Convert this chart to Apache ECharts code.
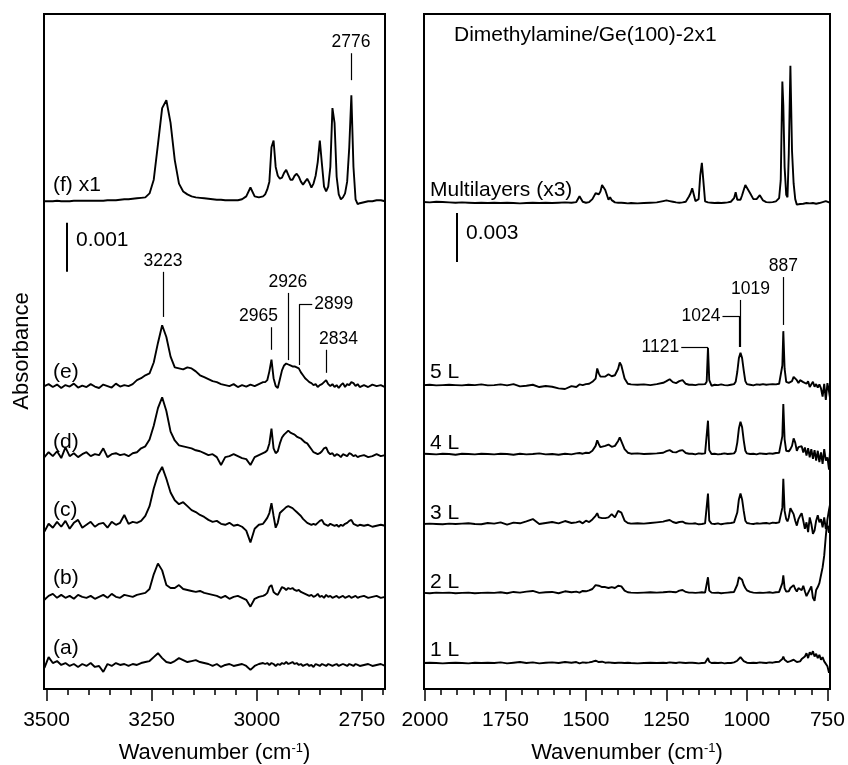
<!DOCTYPE html>
<html>
<head>
<meta charset="utf-8">
<title>Dimethylamine/Ge(100)-2x1</title>
<script src="https://cdn.jsdelivr.net/npm/echarts@6.0.0/dist/echarts.min.js"></script>
<style>
  html, body { margin: 0; padding: 0; background: #fff; }
  #container { width: 848px; height: 765px; }
</style>
</head>
<body>
<div id="container"></div>
<script>
// absorbance values are stored x 1e5 (so 100 = 0.001)

// ---- left panel: 3500-2700 cm-1 ----
var leftWn = [
  3505,3495,3485,3475,3465,3455,3445,3435,3425,3415,
  3405,3395,3385,3375,3365,3355,3345,3335,3325,3315,
  3305,3295,3285,3275,3265,3255,3245,3235,3225,3215,
  3205,3195,3185,3175,3165,3155,3145,3135,3125,3115,
  3105,3095,3085,3075,3065,3055,3045,3035,3025,3015,
  3005,2995,2985,
  2980,2975,2970,2965,2960,2955,2950,2945,2940,2935,
  2930,2925,2920,2915,2910,2905,2900,2895,2890,2885,
  2880,2875,2870,2865,2860,2855,2850,2845,2840,2835,
  2830,2825,2820,2815,2810,2805,2800,2795,2790,2785,
  2780,2775,2770,2765,2760,2755,
  2745,2735,2725,2715,2705,2695
];
var traceF = [
  0,0,0,1,0,0,0,1,1,1,
  1,1,1,1,1,2,2,2,3,4,
  4,5,6,7,8,16,44,116,190,206,
  160,84,36,20,14,10,8,7,6,5,
  4,3,3,2,2,2,2,4,10,28,
  10,8,10,
  14,24,40,110,124,70,52,46,48,58,
  64,54,44,44,52,56,50,40,34,40,
  46,38,28,36,52,80,124,76,30,20,
  30,70,190,160,50,14,4,8,16,40,
  110,216,70,4,-6,-4,
  -2,0,0,2,2,0
];
var traceE = [
  0,4,-2,3,-4,2,-1,5,-3,1,
  -2,4,-1,-4,3,0,-3,5,-1,2,
  0,4,12,16,22,26,48,88,124,100,
  60,38,36,34,38,36,30,22,18,14,
  10,8,4,2,0,4,-2,2,-1,3,
  0,4,8,
  8,12,30,54,16,0,-4,14,32,42,
  46,44,42,40,40,38,36,28,22,16,
  12,8,6,2,4,-2,2,4,8,12,
  4,0,4,-2,2,-4,2,6,-2,4,
  2,8,6,0,4,-2,
  2,-2,3,0,2,-2
];
var traceD = [
  -4,6,-2,8,-6,16,-2,4,-4,2,
  6,-2,2,0,14,-4,2,4,0,2,
  -2,4,6,14,18,32,60,96,118,90,
  48,30,20,18,16,14,10,8,4,0,
  2,-4,-20,-4,-2,2,-2,-6,-8,-20,
  -4,0,4,
  6,10,24,54,14,4,8,24,36,42,
  46,50,46,44,42,38,36,34,30,26,
  24,18,12,6,4,2,4,8,14,16,
  6,2,4,-2,2,0,-4,2,0,-2,
  4,2,-2,0,-4,-2,
  0,-4,-2,2,-2,0
];
var traceC = [
  -12,4,-4,8,-2,10,-6,6,12,-4,
  2,8,-2,4,6,-4,8,2,6,22,
  4,8,6,10,20,40,76,104,120,96,
  68,52,44,48,40,32,28,22,18,12,
  8,10,4,2,6,0,2,-2,-10,-34,
  -6,2,4,
  10,16,26,46,20,-4,6,26,30,34,
  38,40,38,36,32,28,24,20,14,10,
  6,4,2,4,2,6,10,12,4,2,
  0,4,2,0,2,-2,2,0,4,6,
  10,12,4,2,0,2,
  0,2,-2,0,2,0
];
var traceB = [
  -6,2,6,-2,4,-2,2,-4,4,0,
  -2,2,-4,0,4,-2,6,0,-2,4,
  2,0,4,6,8,16,46,68,54,24,
  18,18,24,16,14,12,10,12,8,6,
  4,2,-2,2,-4,0,2,-2,-6,-20,
  -4,0,2,
  4,8,20,24,10,6,4,12,20,18,
  14,18,16,18,14,12,14,10,8,6,
  4,2,4,0,2,6,0,2,-2,4,
  0,2,-2,0,2,-2,0,2,-2,0,
  2,-2,0,2,-2,0,
  2,-2,0,2,-2,0
];
var traceA = [
  -6,16,4,8,0,4,-2,2,-4,2,
  -2,4,-4,-2,-14,2,-2,4,0,2,
  -2,2,0,4,6,8,16,24,14,6,
  4,8,14,10,6,8,10,6,4,2,
  -2,2,-4,0,2,-2,0,2,-2,-10,
  -2,2,4,
  2,4,0,4,2,-2,2,0,4,2,
  6,2,4,6,2,4,0,2,-2,0,
  2,-2,0,-4,2,0,-2,2,0,-2,
  2,0,-2,0,2,-2,0,2,0,-2,
  2,0,-2,2,0,-2,
  0,2,-2,0,2,-2
];
var leftNames = ['(f) x1', '(e)', '(d)', '(c)', '(b)', '(a)'];
var leftOffsets = [995, 618, 477, 333, 188, 49];
var leftPeaks = [3223, 2965, 2926, 2899, 2834, 2776];

// ---- right panel: 2000-750 cm-1 ----
var rightWn = [
  2005,1985,1965,1945,1925,1905,1885,1865,1845,1825,
  1805,1785,1765,1745,1725,1705,1685,1665,1645,1625,
  1605,1585,1565,1545,1530,1520,1510,1500,1490,1480,
  1470,1465,1460,1455,1450,1440,1430,1425,1420,1410,
  1400,1395,1390,1380,1370,1360,1340,1320,1300,1280,
  1260,1250,1240,1230,1220,1210,1200,1190,1180,1175,
  1170,1160,1150,1145,1140,1130,1125,1121,1117,1110,
  1100,1090,1080,1070,1060,1055,1050,1040,1035,1030,
  1025,1020,1015,1010,1005,1000,990,980,970,960,
  950,940,930,920,910,900,895,890,887,883,
  878,874,870,865,860,855,850,845,840,835,
  830,825,820,815,810,805,800,795,790,785,
  780,775,770,765,760,755,750,745,742
];
var multi = [
  6,4,8,6,4,2,4,2,0,2,
  0,2,0,2,0,-2,0,2,0,2,
  0,2,4,2,6,42,8,2,6,24,
  60,48,54,70,110,80,20,36,18,4,
  2,0,2,0,-2,0,-2,0,2,4,
  12,16,12,8,4,2,4,8,40,60,
  90,12,24,170,246,10,6,4,2,2,
  0,2,0,2,4,6,8,30,66,20,
  10,20,48,80,110,120,60,24,24,48,
  16,6,4,6,10,30,140,744,600,220,
  50,36,300,840,320,120,24,-10,-12,-6,
  -8,-4,-6,0,-4,-2,-6,0,-2,-4,
  -2,0,2,6,10,12,8,4,2
];
var dose5 = [
  0,2,-2,0,2,0,-2,2,0,4,
  -2,0,4,-2,6,-8,-4,2,-12,-6,
  -10,-20,-24,-6,-12,4,0,6,8,20,
  40,102,70,52,60,52,66,72,54,60,
  100,138,120,40,8,4,2,4,0,6,
  14,24,36,18,12,24,30,8,2,0,
  2,0,4,2,4,6,20,228,30,-4,
  2,0,4,0,-2,4,2,6,20,80,
  165,198,165,90,24,6,2,-2,4,2,
  6,2,4,6,4,8,12,120,330,100,
  20,12,14,20,24,50,60,30,12,30,
  42,18,30,8,24,-12,-6,20,-10,6,
  -16,4,-20,-70,8,-90,12,-40,-78
];
var dose4 = [
  2,0,-2,2,0,-4,2,0,-2,2,
  0,-2,2,0,-4,2,-2,0,4,-2,
  0,-4,2,-2,4,6,2,8,6,20,
  50,84,60,42,48,50,58,60,44,50,
  80,102,90,30,8,2,4,0,2,4,
  8,18,24,12,10,20,24,6,2,0,
  2,-2,4,0,2,4,14,204,24,0,
  2,-2,0,4,0,-2,2,4,18,70,
  156,198,164,84,20,4,0,2,-2,4,
  2,0,4,2,6,8,12,110,306,90,
  20,10,16,30,50,96,70,20,42,30,
  48,10,40,-10,36,-20,30,-30,24,-40,
  20,-50,10,-60,30,-40,-20,-96,20
];
var dose3 = [
  0,2,0,-2,2,0,2,4,0,-2,
  6,2,10,-4,8,4,16,30,0,6,
  12,4,18,6,10,16,4,20,12,28,
  50,66,40,32,36,36,40,50,60,40,
  80,90,70,20,6,2,4,2,6,10,
  14,20,24,12,6,12,14,4,2,0,
  2,4,-2,2,0,4,16,186,20,2,
  0,4,-2,2,4,0,6,10,20,70,
  150,186,150,80,20,6,2,0,4,2,
  4,6,2,8,6,10,16,100,276,80,
  30,16,40,96,100,60,20,-10,30,50,
  66,20,-30,10,-50,40,0,-60,-40,20,
  54,10,30,-20,40,-30,-10,-54,20
];
var dose2 = [
  0,-2,2,0,2,-2,0,2,-2,0,
  2,0,4,-2,6,2,8,12,0,4,
  6,-2,10,4,8,2,12,10,16,24,
  48,54,44,36,36,36,30,34,36,30,
  44,48,40,14,4,2,0,2,4,2,
  4,6,8,6,4,14,18,6,2,0,
  2,0,2,0,4,2,10,96,14,2,
  0,2,-2,0,2,0,4,6,14,50,
  96,102,80,50,30,16,6,2,0,2,
  0,2,4,0,4,6,10,60,108,30,
  8,4,10,30,40,48,24,8,30,40,
  16,44,10,-20,-30,20,40,-30,-48,18,
  36,60,108,156,228,348,450,510,540
];
var dose1 = [
  0,2,0,-2,0,2,0,-2,2,0,
  2,0,4,-2,2,6,0,4,-2,2,
  4,0,6,2,6,-2,4,2,4,8,
  14,18,6,4,8,2,4,6,2,0,
  2,4,2,0,2,0,-2,0,2,0,
  2,0,4,2,0,4,2,0,2,0,
  2,0,-2,2,0,2,6,30,8,0,
  2,0,2,-2,0,2,0,4,8,14,
  24,36,24,12,6,2,0,2,0,4,
  2,0,4,2,6,8,12,24,40,20,
  10,6,8,12,10,20,16,6,14,10,
  24,20,40,60,30,66,50,72,40,56,
  30,50,20,36,10,0,-20,-60,-40
];
var rightNames = ['Multilayers (x3)', '5 L', '4 L', '3 L', '2 L', '1 L'];
var rightOffsets = [2974, 1860, 1438, 1010, 588, 159];

// axis ticks
var leftMinorTicks = [2700,2750,2800,2850,2900,2950,3000,3050,3100,3150,3200,3250,3300,3350,3400,3450,3500];
var leftMajorTicks = [2750, 3000, 3250, 3500];
var rightMinorTicks = [750,800,850,900,950,1000,1050,1100,1150,1200,1250,1300,1350,1400,1450,1500,1550,1600,1650,1700,1750,1800,1850,1900,1950,2000];
var rightMajorTicks = [750, 1000, 1250, 1500, 1750, 2000];

var FONT = '"Liberation Sans", Arial, Helvetica, sans-serif';

function traceData(wn, vals, offset) {
    if (wn.length !== vals.length) console.warn('length mismatch', wn.length, vals.length);
    return wn.map(function (w, i) { return [w, offset + vals[i]]; });
}

function lineSeries(name, xi, yi, data) {
    return {
        name: name, type: 'line', xAxisIndex: xi, yAxisIndex: yi,
        data: data, symbol: 'none', silent: true, animation: false,
        lineStyle: { color: '#000', width: 1.9 }
    };
}

function xAxes(gridIndex, min, max, minor, major) {
    var common = {
        gridIndex: gridIndex, type: 'value', min: min, max: max, inverse: true,
        position: 'bottom', splitLine: { show: false }, axisLine: { show: false }
    };
    var labelled = Object.assign({}, common, {
        axisTick: { show: true, length: 6, customValues: minor, lineStyle: { color: '#000', width: 1.5 } },
        axisLabel: {
            show: true, customValues: major, margin: 21, fontSize: 21, color: '#000', fontFamily: FONT,
            formatter: function (v) { return String(v); }
        },
        name: 'Wavenumber (cm{sup|-1})',
        nameLocation: 'middle',
        nameGap: 53,
        nameTextStyle: {
            fontSize: 22, color: '#000', fontFamily: FONT,
            rich: { sup: { fontSize: 13, color: '#000', fontFamily: FONT, verticalAlign: 'top' } }
        }
    });
    var majorTicks = Object.assign({}, common, {
        axisTick: { show: true, length: 12, customValues: major, lineStyle: { color: '#000', width: 1.5 } },
        axisLabel: { show: false }
    });
    return [labelled, majorTicks];
}

function peakLine(label, x1, y1, x2, y2, offset) {
    return [
        { name: label, coord: [x1, y1], label: { offset: offset || [0, 0] } },
        { coord: [x2, y2] }
    ];
}

var markLineBase = {
    silent: true, symbol: 'none', animation: false, precision: 0,
    lineStyle: { color: '#000', width: 1.2, type: 'solid' },
    label: { show: true, position: 'end', distance: 2, formatter: '{b}', color: '#000', fontSize: 17.5, fontFamily: FONT },
    emphasis: { disabled: true }
};

var series = [];
var leftTraces = [traceF, traceE, traceD, traceC, traceB, traceA];
leftTraces.forEach(function (t, i) {
    series.push(lineSeries(leftNames[i], 0, 0, traceData(leftWn, t, leftOffsets[i])));
});
var rightTraces = [multi, dose5, dose4, dose3, dose2, dose1];
rightTraces.forEach(function (t, i) {
    series.push(lineSeries(rightNames[i], 2, 1, traceData(rightWn, t, rightOffsets[i])));
});

// peak markers and scale bars
series[1].markLine = Object.assign({}, markLineBase, {
    data: [
        peakLine(String(leftPeaks[0]), leftPeaks[0], 759, leftPeaks[0], 851),
        peakLine(String(leftPeaks[1]), leftPeaks[1], 692, leftPeaks[1], 738, [-13, 0]),
        peakLine(String(leftPeaks[2]), leftPeaks[2], 671, leftPeaks[2], 808),
        peakLine('', leftPeaks[3], 661, leftPeaks[3], 785),
        peakLine(String(leftPeaks[3]), leftPeaks[3], 785, 2868, 785),
        peakLine(String(leftPeaks[4]), leftPeaks[4], 645, leftPeaks[4], 692, [12, 0]),
        peakLine(String(leftPeaks[5]), leftPeaks[5], 1242, leftPeaks[5], 1297),
        [{ name: '', coord: [3451, 851], lineStyle: { width: 2 } }, { coord: [3451, 951] }]
    ]
});
series[7].markLine = Object.assign({}, markLineBase, {
    data: [
        peakLine('887', 887, 2228, 887, 2521),
        peakLine('1019', 1020, 2093, 1020, 2381, [10, 0]),
        peakLine('', 1024, 2093, 1024, 2283),
        peakLine('1024', 1024, 2283, 1076, 2283),
        peakLine('1121', 1121, 2093, 1204, 2093),
        [{ name: '', coord: [1900, 2613], lineStyle: { width: 2 } }, { coord: [1900, 2913] }]
    ]
});

function txt(s, x, y, size, align) {
    return {
        type: 'text', x: x, y: y, silent: true,
        style: {
            text: s, fill: '#000', fontSize: size || 21, fontFamily: FONT,
            align: align || 'left', verticalAlign: 'middle',
            textAlign: align || 'left', textVerticalAlign: 'middle'
        }
    };
}

var graphics = [
    txt(leftNames[0], 53, 185), txt(leftNames[1], 53, 372), txt(leftNames[2], 53, 442),
    txt(leftNames[3], 53, 510), txt(leftNames[4], 53, 578), txt(leftNames[5], 53, 648),
    txt('0.001', 76, 240),
    txt('Dimethylamine/Ge(100)-2x1', 454, 35),
    txt(rightNames[0], 430, 190), txt(rightNames[1], 430, 372), txt(rightNames[2], 430, 443),
    txt(rightNames[3], 430, 513), txt(rightNames[4], 430, 582), txt(rightNames[5], 430, 650),
    txt('0.003', 466, 233),
    {
        type: 'text', x: 22, y: 351, rotation: Math.PI / 2, silent: true,
        style: {
            text: 'Absorbance', fill: '#000', fontSize: 22, fontFamily: FONT,
            align: 'center', verticalAlign: 'middle', textAlign: 'center', textVerticalAlign: 'middle'
        }
    }
];

var dom = document.getElementById('container');
var myChart = echarts.init(dom, null, { renderer: 'canvas' });

var option = {
    animation: false,
    backgroundColor: '#fff',
    grid: [
        { left: 44, top: 14, width: 341, height: 675, show: true, borderColor: '#000', borderWidth: 2, backgroundColor: 'transparent', outerBoundsMode: 'none' },
        { left: 424, top: 14, width: 406, height: 675, show: true, borderColor: '#000', borderWidth: 2, backgroundColor: 'transparent', outerBoundsMode: 'none' }
    ],
    xAxis: xAxes(0, 2695, 3506, leftMinorTicks, leftMajorTicks)
        .concat(xAxes(1, 742, 2003, rightMinorTicks, rightMajorTicks)),
    yAxis: [
        { gridIndex: 0, type: 'value', min: 0, max: 1377, show: false },
        { gridIndex: 1, type: 'value', min: 0, max: 4131, show: false }
    ],
    series: series,
    graphic: graphics
};

myChart.setOption(option);
window.addEventListener('resize', myChart.resize);
</script>
</body>
</html>
